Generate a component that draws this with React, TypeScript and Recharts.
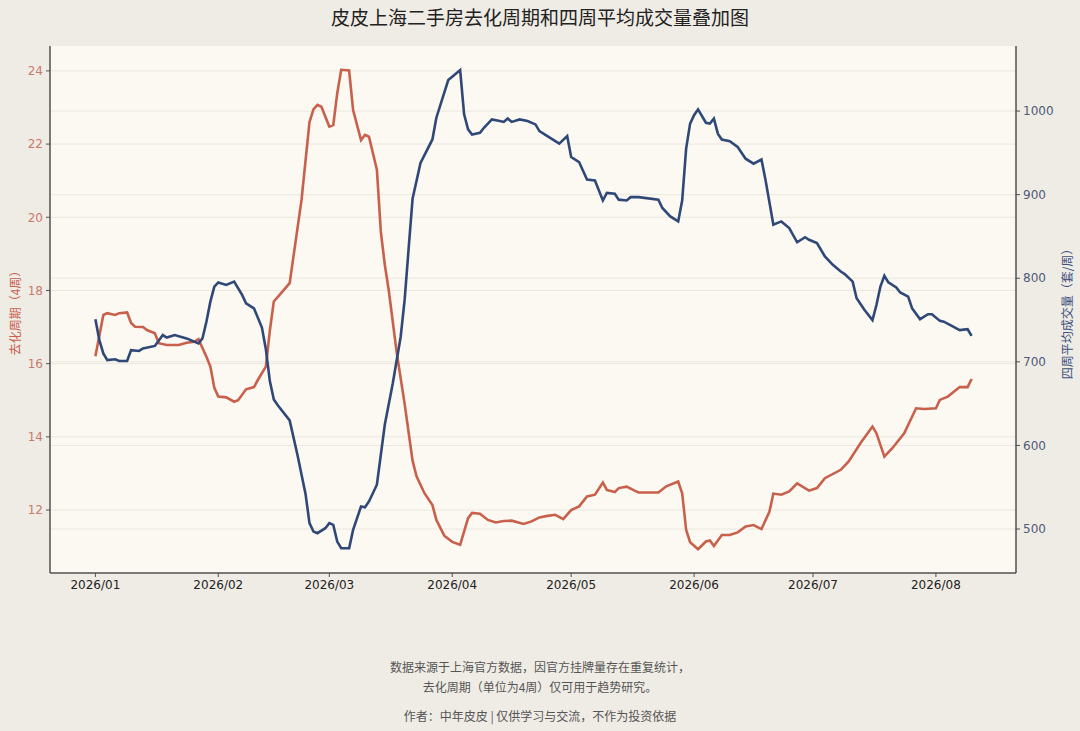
import { LineChart, Line, XAxis, YAxis, CartesianGrid } from "recharts";

const redDates = [
  "01-01", "01-03", "01-04", "01-06", "01-07", "01-09", "01-10", "01-11", "01-13", "01-14",
  "01-16", "01-17", "01-19", "01-22", "01-24", "01-26", "01-27", "01-29", "01-30", "01-31",
  "02-01", "02-03", "02-05", "02-06", "02-08", "02-10", "02-11", "02-13", "02-14", "02-15",
  "02-17", "02-19", "02-22", "02-24", "02-25", "02-26", "02-27",
  "03-01", "03-02", "03-03", "03-04", "03-06", "03-07", "03-09", "03-10", "03-11", "03-13",
  "03-14", "03-15", "03-16", "03-18", "03-20", "03-22", "03-23", "03-25", "03-27", "03-28", "03-30",
  "04-01", "04-03", "04-05", "04-06", "04-08", "04-10", "04-12", "04-14", "04-16", "04-19",
  "04-21", "04-23", "04-25", "04-27", "04-29",
  "05-01", "05-03", "05-05", "05-07", "05-09", "05-10", "05-12", "05-13", "05-15", "05-17",
  "05-18", "05-23", "05-25", "05-28", "05-29", "05-30", "05-31",
  "06-02", "06-04", "06-05", "06-06", "06-08", "06-10", "06-12", "06-14", "06-16", "06-18",
  "06-20", "06-21", "06-23", "06-25", "06-27", "06-30",
  "07-02", "07-04", "07-08", "07-10", "07-13", "07-16", "07-17", "07-19", "07-21", "07-24",
  "07-27", "07-29",
  "08-01", "08-02", "08-04", "08-07", "08-09", "08-10",
];

// 去化周期（4周）
const redValues = [
  16.2, 17.33, 17.38, 17.33, 17.38, 17.4, 17.11, 17.01, 17.0, 16.92,
  16.83, 16.56, 16.51, 16.51, 16.57, 16.6, 16.67, 16.19, 15.92, 15.34,
  15.1, 15.08, 14.96, 15.0, 15.3, 15.36, 15.56, 15.92, 16.9, 17.7,
  17.95, 18.2, 20.48, 22.6, 22.95, 23.07, 23.02,
  22.48, 22.52, 23.39, 24.03, 24.01, 22.93, 22.11, 22.25, 22.2, 21.3,
  19.6, 18.7, 18.0, 16.3, 14.9, 13.35, 12.92, 12.46, 12.14, 11.73, 11.3,
  11.13, 11.05, 11.78, 11.92, 11.9, 11.73, 11.66, 11.7, 11.71, 11.62,
  11.69, 11.8, 11.84, 11.87, 11.75,
  12.0, 12.1, 12.37, 12.42, 12.75, 12.55, 12.49, 12.6, 12.64, 12.53,
  12.48, 12.48, 12.65, 12.78, 12.46, 11.46, 11.12,
  10.93, 11.14, 11.17, 11.02, 11.32, 11.32, 11.39, 11.55, 11.59, 11.48,
  11.95, 12.45, 12.42, 12.51, 12.73, 12.53,
  12.6, 12.87, 13.1, 13.33, 13.83, 14.28, 14.1, 13.46, 13.69, 14.1,
  14.78, 14.76,
  14.78, 15.01, 15.1, 15.36, 15.36, 15.58,
];

const blueDates = [
  "01-01", "01-02", "01-03", "01-04", "01-06", "01-07", "01-09", "01-10", "01-12", "01-13",
  "01-16", "01-18", "01-19", "01-21", "01-24", "01-27", "01-28", "01-29", "01-30", "01-31",
  "02-01", "02-03", "02-05", "02-07", "02-08", "02-10", "02-12", "02-13", "02-14", "02-15",
  "02-16", "02-19", "02-21", "02-23", "02-24", "02-25", "02-26", "02-28",
  "03-01", "03-02", "03-03", "03-04", "03-06", "03-07", "03-09", "03-10", "03-11", "03-13",
  "03-15", "03-17", "03-19", "03-20", "03-21", "03-22", "03-24", "03-27", "03-28", "03-31",
  "04-01", "04-03", "04-04", "04-05", "04-06", "04-08", "04-09", "04-11", "04-13", "04-14",
  "04-15", "04-16", "04-18", "04-20", "04-22", "04-23", "04-25", "04-28", "04-30",
  "05-01", "05-03", "05-05", "05-07", "05-09", "05-10", "05-12", "05-13", "05-15", "05-16",
  "05-18", "05-23", "05-24", "05-26", "05-28", "05-29", "05-30", "05-31",
  "06-01", "06-02", "06-04", "06-05", "06-06", "06-07", "06-08", "06-10", "06-12", "06-14",
  "06-16", "06-18", "06-19", "06-21", "06-23", "06-25", "06-27", "06-29", "06-30",
  "07-02", "07-04", "07-06", "07-08", "07-09", "07-11", "07-12", "07-14", "07-16", "07-17",
  "07-18", "07-19", "07-20", "07-22", "07-23", "07-25", "07-26", "07-28", "07-30", "07-31",
  "08-02", "08-03", "08-05", "08-07", "08-09", "08-10",
];

// 四周平均成交量（套/周）
const blueValues = [
  751, 726, 710, 702, 703, 701, 701, 714, 713, 716,
  719, 732, 729, 732, 728, 722, 728, 748, 772, 790,
  795, 792, 796, 780, 770, 764, 741, 715, 677, 655,
  648, 630, 588, 542, 507, 497, 495, 501,
  507, 505, 485, 477, 477, 499, 527, 526, 533, 553,
  625, 674, 730, 774, 835, 895, 938, 966, 992, 1037,
  1041, 1049, 996, 978, 972, 974, 980, 990, 988, 987,
  991, 987, 990, 988, 984, 976, 970, 961, 970,
  945, 939, 918, 917, 893, 902, 901, 894, 893, 897,
  897, 894, 884, 874, 868, 893, 955, 985,
  995, 1002, 986, 985, 991, 973, 966, 964, 957, 943,
  937, 942, 918, 864, 868, 860, 843, 849, 846,
  842, 826, 816, 808, 805, 796, 776, 762, 750, 768,
  790, 803, 795, 789, 783, 778, 764, 751, 757, 757,
  749, 748, 743, 738, 739, 731,
];

const monthTicks = ["01-01", "02-01", "03-01", "04-01", "05-01", "06-01", "07-01", "08-01"];
const monthLabels = ["2026/01", "2026/02", "2026/03", "2026/04", "2026/05", "2026/06", "2026/07", "2026/08"];
const leftTicks = [12, 14, 16, 18, 20, 22, 24];
const rightTicks = [500, 600, 700, 800, 900, 1000];

const dayOf = (md: string) =>
  (Date.parse(`2026-${md}T00:00:00Z`) - Date.parse("2026-01-01T00:00:00Z")) / 86400000;

const redData = redDates.map((d, i) => ({ day: dayOf(d), value: redValues[i] }));
const blueData = blueDates.map((d, i) => ({ day: dayOf(d), value: blueValues[i] }));
const tickDays = monthTicks.map(dayOf);

const RED = "#c8604c";
const BLUE = "#2f4877";
const SPINE = "#505050";
const CJK = '"Noto Sans CJK SC", "DejaVu Sans", sans-serif';
const X_DOMAIN: [number, number] = [-11.45, 232.2];

export default function App() {
  const fmtX = (v: number) => monthLabels[tickDays.indexOf(v)] ?? "";

  return (
    <div
      style={{
        position: "absolute",
        left: 0,
        top: 0,
        width: 1080,
        height: 731,
        background: "#efece5",
        fontFamily: '"DejaVu Sans", sans-serif',
        overflow: "hidden",
      }}
    >
      <div
        style={{
          position: "absolute",
          top: 3,
          left: 0,
          width: 1080,
          textAlign: "center",
          fontFamily: CJK,
          fontSize: 19,
          color: "#222",
        }}
      >
        皮皮上海二手房去化周期和四周平均成交量叠加图
      </div>

      <LineChart
        width={1080}
        height={731}
        margin={{ top: 46, right: 0, bottom: 128, left: 0 }}
        style={{ position: "absolute", left: 0, top: 0 }}
      >
        <CartesianGrid
          yAxisId="left"
          vertical={false}
          fill="#fbf9f2"
          stroke="#ebe7df"
          strokeWidth={1}
          horizontalValues={leftTicks}
        />
        <CartesianGrid
          yAxisId="right"
          vertical={false}
          stroke="#ebe7df"
          strokeWidth={1}
          horizontalValues={rightTicks}
        />
        <XAxis
          dataKey="day"
          type="number"
          domain={X_DOMAIN}
          ticks={tickDays}
          tickFormatter={fmtX}
          allowDataOverflow
          height={30}
          tickSize={4}
          tickMargin={3}
          axisLine={{ stroke: SPINE, strokeWidth: 1.5 }}
          tickLine={{ stroke: SPINE }}
          tick={{ fill: "#222", fontSize: 12 }}
        />
        <XAxis
          xAxisId="top"
          dataKey="day"
          type="number"
          orientation="top"
          domain={X_DOMAIN}
          height={0}
          tick={false}
          tickLine={false}
          axisLine={{ stroke: SPINE, strokeWidth: 1.5 }}
        />
        <YAxis
          yAxisId="left"
          type="number"
          domain={[10.28, 24.68]}
          ticks={leftTicks}
          allowDataOverflow
          width={50}
          tickSize={4}
          tickMargin={3}
          axisLine={{ stroke: SPINE, strokeWidth: 1.5 }}
          tickLine={{ stroke: SPINE }}
          tick={{ fill: "#c77a6a", fontSize: 12 }}
        />
        <YAxis
          yAxisId="right"
          orientation="right"
          type="number"
          domain={[447.4, 1077.8]}
          ticks={rightTicks}
          allowDataOverflow
          width={64}
          tickSize={4}
          tickMargin={3}
          axisLine={{ stroke: SPINE, strokeWidth: 1.5 }}
          tickLine={{ stroke: SPINE }}
          tick={{ fill: "#4d5a78", fontSize: 12 }}
        />
        <Line
          yAxisId="left"
          data={redData}
          dataKey="value"
          name="去化周期"
          type="linear"
          stroke={RED}
          strokeWidth={2.6}
          dot={false}
          isAnimationActive={false}
        />
        <Line
          yAxisId="right"
          data={blueData}
          dataKey="value"
          name="四周平均成交量"
          type="linear"
          stroke={BLUE}
          strokeWidth={2.6}
          dot={false}
          isAnimationActive={false}
        />
      </LineChart>

      <div
        style={{
          position: "absolute",
          left: 14,
          top: 310,
          transform: "translate(-50%, -50%) rotate(-90deg)",
          whiteSpace: "nowrap",
          fontFamily: CJK,
          fontSize: 12,
          color: RED,
        }}
      >
        去化周期（4周）
      </div>
      <div
        style={{
          position: "absolute",
          left: 1066,
          top: 311,
          transform: "translate(-50%, -50%) rotate(-90deg)",
          whiteSpace: "nowrap",
          fontFamily: CJK,
          fontSize: 12,
          color: "#3d5080",
        }}
      >
        四周平均成交量（套/周）
      </div>

      <div
        style={{
          position: "absolute",
          top: 657,
          left: 0,
          width: 1080,
          textAlign: "center",
          fontFamily: CJK,
          fontSize: 12,
          lineHeight: "20px",
          color: "#555",
        }}
      >
        <div>数据来源于上海官方数据，因官方挂牌量存在重复统计，</div>
        <div>去化周期（单位为4周）仅可用于趋势研究。</div>
        <div style={{ marginTop: 9 }}>作者：中年皮皮 | 仅供学习与交流，不作为投资依据</div>
      </div>
    </div>
  );
}
